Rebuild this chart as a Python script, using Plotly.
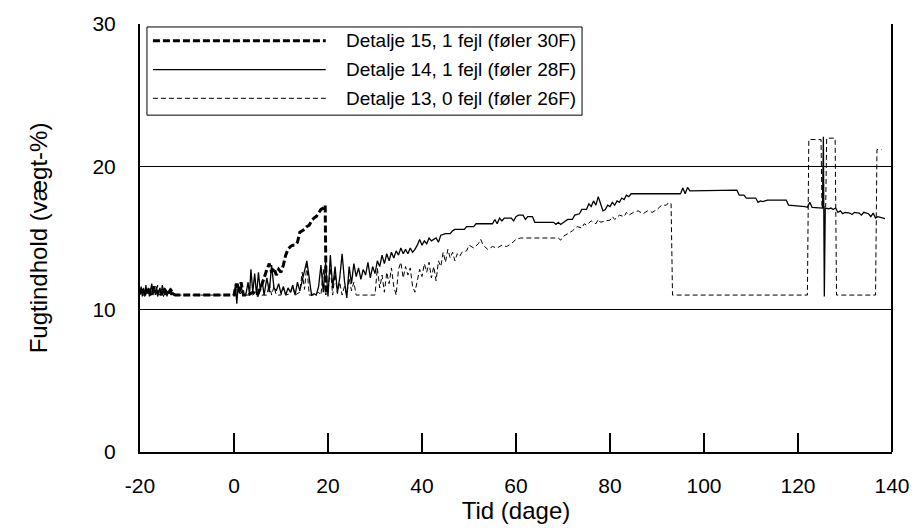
import plotly.graph_objects as go

# ---------------- data ----------------
days14 = [-20, -19.75, -19.5, -19.25, -19, -18.75, -18.5, -18.25, -18, -17.75, -17.5, -17.25, -17,
          -16.75, -16.5, -16.25, -16, -15.75, -15.5, -15.25, -15, -14.75, -14.5, -14.25, -14, -13.75,
          -13.5, -13.25, -13, -12.75, -12.5, -12.4,
          0, 0.3, 0.6, 0.9, 1.2, 1.5, 2, 2.5, 3, 3.3, 3.6, 4, 4.4, 4.8, 5.2, 5.6, 6, 6.4, 7, 7.5, 8,
          8.5, 9, 9.5, 10, 10.5, 11, 11.5, 12, 12.5, 13, 13.5, 14, 14.5, 15, 15.5, 16, 16.5, 17, 17.5,
          18, 18.5, 19, 19.5, 20, 20.5, 21, 21.5, 22, 22.5, 23, 23.5, 24, 24.5, 25, 25.5, 26, 26.5,
          27, 27.5, 28, 28.5, 29, 29.5, 30, 30.5, 31, 31.5, 32, 32.5, 33, 33.5, 34, 34.5, 35, 35.5,
          36, 36.5, 37, 37.5, 38, 38.5, 39, 39.5, 40, 40.5, 41, 41.5, 42, 43, 43.5, 44, 45, 46, 46.5,
          47, 49, 49.5, 51, 51.5, 55, 55.5, 56, 56.5, 57, 57.5, 59, 59.5, 60, 60.5, 61.5, 62, 62.5,
          63.5, 64, 68, 68.5, 69, 69.5, 70, 71, 72, 72.5, 73.5, 74, 75, 75.5, 76, 76.5, 77, 77.5, 78,
          78.5, 79, 79.5, 80, 80.5, 81, 81.5, 82, 82.5, 83, 83.5, 84, 84.5, 95, 95.5, 96, 96.5, 97,
          107, 107.5, 108.5, 109, 111, 111.5, 112, 112.5, 113.5, 117.5, 118, 121.5, 122, 122.5, 123,
          125.2, 125.4, 125.6, 125.8, 126.5, 127, 127.5, 128, 128.5, 129, 129.5, 130, 131, 131.5, 132,
          133, 133.5, 134, 135, 135.5, 136, 136.5, 137, 138.5]
vals14 = [11.2, 11.6, 10.9, 11.4, 11.0, 11.7, 11.1, 11.5, 10.9, 11.3, 11.8, 11.0, 11.4, 11.1, 11.6,
          10.9, 11.3, 11.5, 11.0, 11.7, 11.2, 11.0, 11.4, 10.9, 11.3, 11.1, 11.5, 11.0, 11.2, 11.0,
          11.0, None,
          11.0, 11.7, 10.4, 11.8, 11.1, 11.6, 11.0, 11.0, 11.9, 11.0, 12.8, 11.2, 12.5, 11.0, 12.6,
          11.3, 12.0, 11.0, 12.2, 11.2, 13.1, 11.5, 11.3, 11.8, 11.1, 11.6, 11.0, 11.5, 11.2, 11.7,
          11.0, 11.9, 11.3, 12.0, 12.9, 13.4, 12.2, 11.0, 11.1, 11.0, 11.6, 13.1, 11.2, 13.3, 10.9,
          13.8, 11.5, 13.0, 11.2, 12.2, 13.9, 12.0, 10.8, 13.0, 11.8, 13.2, 12.3, 12.9, 12.1, 12.8,
          12.4, 13.3, 12.2, 13.0, 12.5, 13.4, 13.0, 13.8, 13.2, 13.9, 13.4, 14.0, 13.6, 14.1, 13.8,
          14.3, 13.9, 14.2, 13.9, 14.3, 14.0, 14.2, 14.5, 14.9, 14.5, 14.8, 14.6, 15.0, 14.8, 15.0,
          14.7, 15.2, 15.3, 15.3, 15.5, 15.6, 15.6, 15.8, 15.8, 16.0, 16.0, 16.3, 16.0, 16.4, 16.2,
          16.4, 16.4, 16.2, 16.5, 16.6, 16.6, 16.3, 16.5, 16.5, 16.1, 16.1, 15.95, 16.1, 15.95, 16.05,
          16.3, 16.3, 16.6, 16.7, 17.0, 17.0, 17.4, 17.2, 17.6, 17.3, 17.9, 17.4, 16.9, 17.0, 17.3,
          17.2, 17.5, 17.3, 17.6, 17.5, 17.8, 17.7, 18.0, 17.9, 18.1, 18.1, 18.5, 18.1, 18.55, 18.3,
          18.35, 18.0, 18.0, 17.8, 17.8, 17.5, 17.6, 17.55, 17.65, 17.65, 17.3, 17.2, 17.15, 17.5,
          17.15, 17.1, 22.1, 10.9, 17.1, 17.05, 17.1, 17.0, 17.1, 16.8, 16.9, 16.7, 16.8, 16.75, 16.65,
          16.8, 16.75, 16.6, 16.8, 16.7, 16.5, 16.75, 16.4, 16.5, 16.35]

days13 = [-20, -19.75, -19.5, -19.25, -19, -18.75, -18.5, -18.25, -18, -17.75, -17.5, -17.25, -17,
          -16.75, -16.5, -16.25, -16, -15.75, -15.5, -15.25, -15, -14.75, -14.5, -14.25, -14, -13.75,
          -13.5, -13.25, -13, -12.75, -12.5,
          0, 1, 2, 2.5, 4, 5, 5.5, 7, 7.5, 8, 8.5, 9, 10, 10.5, 11, 12, 12.5, 13, 14, 14.5, 15, 15.5,
          16, 17, 18, 18.5, 19, 19.5, 20, 20.5, 21, 21.5, 22, 22.5, 23, 23.5, 24, 24.5, 25, 25.5, 26,
          30, 30.5, 31, 31.5, 32, 32.5, 33, 33.5, 34, 34.5, 35, 35.5, 36, 36.5, 37, 37.5, 38, 38.5,
          39, 39.5, 40, 40.5, 41, 41.5, 42, 42.5, 43, 43.5, 44, 44.5, 45, 45.5, 46, 46.5, 47, 47.5,
          48, 48.5, 49.5, 50, 51, 52, 52.5, 53, 54, 55, 56, 57, 58, 59, 60, 61, 69, 69.5, 70, 71, 72,
          73, 74, 74.5, 75, 76, 77, 77.5, 78, 79, 80, 80.5, 81, 82, 83, 83.5, 84, 85, 86, 87, 88, 89,
          90, 91, 92, 92.5, 93, 93.3, 122, 122.3, 124.9, 125.1, 125.9, 126.1, 127.9, 128.2, 136.5,
          136.8, 137.8]
vals13 = [11.0, 11.3, 11.1, 11.6, 10.9, 11.2, 11.4, 11.0, 11.5, 11.1, 10.9, 11.6, 11.2, 11.0, 11.3,
          11.7, 11.0, 11.2, 11.4, 11.1, 10.9, 11.5, 11.0, 11.3, 11.1, 11.4, 11.0, 11.2, 11.0, 11.1,
          11.0,
          11.0, 11.0, 11.3, 11.0, 11.0, 11.4, 11.0, 11.0, 11.8, 11.0, 11.6, 11.0, 11.0, 11.5, 11.0,
          11.1, 11.6, 11.0, 11.2, 12.6, 11.4, 13.1, 11.0, 11.0, 11.2, 11.0, 12.8, 11.0, 11.2, 12.9,
          11.0, 12.5, 11.1, 11.9, 11.0, 11.6, 11.0, 12.2, 11.3, 11.9, 11.0,
          11.0, 12.9, 11.5, 12.4, 11.2, 12.6, 11.8, 12.9, 11.6, 11.0, 12.8, 13.3, 12.2, 13.0, 12.4,
          12.9, 11.6, 11.2, 12.0, 12.8, 12.3, 13.2, 12.6, 13.3, 12.2, 13.0, 12.0, 13.4, 13.0, 14.0,
          13.3, 14.2, 13.6, 14.0, 13.4, 13.9, 13.7, 14.0, 14.1, 14.5, 14.3, 14.6, 14.9, 14.5, 14.2,
          14.4, 14.3, 14.5, 14.4, 14.6, 14.9, 15.0, 15.0, 14.85, 15.1, 15.3, 15.5, 15.8, 15.7, 16.0,
          15.9, 16.2, 16.0, 16.3, 16.1, 16.2, 16.25, 16.5, 16.3, 16.6, 16.5, 16.8, 16.6, 16.8, 16.9,
          16.7, 16.9, 16.8, 17.0, 17.3, 17.3, 17.5, 17.4, 11.0, 11.0, 21.9, 21.9, 17.2, 17.2, 22.0,
          22.0, 11.0, 11.0, 21.2, 21.2]

days15 = [-20, -19.5, -19, -18.5, -18, -17.5, -17, -16.5, -16, -15.5, -15, -14.5, -14, -13.5, -13,
          -12.5, 0, 0.5, 1, 1.5, 2, 3, 4, 5, 6, 7, 7.5, 8, 8.5, 9, 9.5, 10, 10.5, 11, 11.5, 12, 12.5,
          13, 13.5, 14, 14.5, 15, 15.5, 16, 16.5, 17, 17.5, 18, 18.5, 19, 19.4, 19.6]
vals15 = [11.1, 11.4, 11.0, 11.5, 11.2, 11.0, 11.6, 11.1, 11.3, 11.0, 11.5, 11.2, 11.0, 11.4, 11.1,
          11.0, 11.0, 11.8, 11.2, 11.9, 11.0, 11.0, 11.2, 11.0, 11.8, 12.8, 13.2, 12.6, 12.9, 12.4,
          12.8, 12.6, 13.1, 13.8, 14.2, 14.4, 14.5, 14.5, 14.7, 15.4, 15.5, 15.6, 15.8, 15.9, 16.2,
          16.4, 16.5, 16.8, 17.0, 17.1, 17.3, 11.0]

names = ["Detalje 15, 1 fejl (føler 30F)",
         "Detalje 14, 1 fejl (føler 28F)",
         "Detalje 13, 0 fejl (føler 26F)"]
x_ticks = [-20, 0, 20, 40, 60, 80, 100, 120, 140]
x_labels = ["-20", "0", "20", "40", "60", "80", "100", "120", "140"]
y_ticks = [0, 10, 20, 30]
y_labels = ["0", "10", "20", "30"]

# ---------------- figure ----------------
FONT = "Liberation Sans, Arial, sans-serif"
L, R, T, B = 140, 897, 20, 452  # plot area in pixels


def px(xp):
    return (xp - L) / (R - L)


def py(yp):
    return (B - yp) / (B - T)


styles = [dict(color="black", width=3, dash="7px,3px"),
          dict(color="black", width=1.3),
          dict(color="black", width=1, dash="5px,3px")]

fig = go.Figure()
fig.add_trace(go.Scatter(x=days13, y=vals13, mode="lines", name=names[2], line=styles[2],
                         showlegend=False))
fig.add_trace(go.Scatter(x=days14, y=vals14, mode="lines", name=names[1], line=styles[1],
                         showlegend=False))
fig.add_trace(go.Scatter(x=days15, y=vals15, mode="lines", name=names[0], line=styles[0],
                         showlegend=False))

shapes = [
    dict(type="line", xref="paper", yref="paper", x0=1, x1=1, y0=0, y1=1,
         line=dict(color="black", width=2)),
    dict(type="rect", xref="paper", yref="paper", x0=px(147), x1=px(585), y0=py(112), y1=py(23),
         line=dict(color="black", width=1), fillcolor="white"),
]
annotations = []
rows = [37, 66, 95]
for i, (nm, st) in enumerate(zip(names, styles)):
    shapes.append(dict(type="line", xref="paper", yref="paper", x0=px(153), x1=px(327),
                       y0=py(rows[i]), y1=py(rows[i]), line=st))
    annotations.append(dict(xref="paper", yref="paper", x=px(345), y=py(rows[i]), text=nm,
                            showarrow=False, xanchor="left", yanchor="middle",
                            font=dict(family=FONT, size=19, color="black")))

fig.update_layout(
    width=922, height=528,
    margin=dict(l=L, r=922 - R, t=T, b=528 - B),
    paper_bgcolor="white", plot_bgcolor="white",
    font=dict(family=FONT, color="black"),
    shapes=shapes, annotations=annotations,
    xaxis=dict(range=[-20, 140], tickvals=x_ticks, ticktext=x_labels, ticks="inside", ticklen=19,
               tickwidth=2, tickcolor="black", showline=True, linewidth=2, linecolor="black",
               showgrid=False, zeroline=False, tickfont=dict(size=21), ticklabelstandoff=14,
               title=dict(text="Tid (dage)", font=dict(size=24), standoff=2)),
    yaxis=dict(range=[0, 30], tickvals=y_ticks, ticktext=y_labels, ticks="", showline=True,
               linewidth=2, linecolor="black", showgrid=True, gridcolor="black", gridwidth=1,
               zeroline=False, tickfont=dict(size=21), ticklabelstandoff=18,
               title=dict(text="Fugtindhold (vægt-%)", font=dict(size=24), standoff=38)),
)

fig.write_html("out.html")
